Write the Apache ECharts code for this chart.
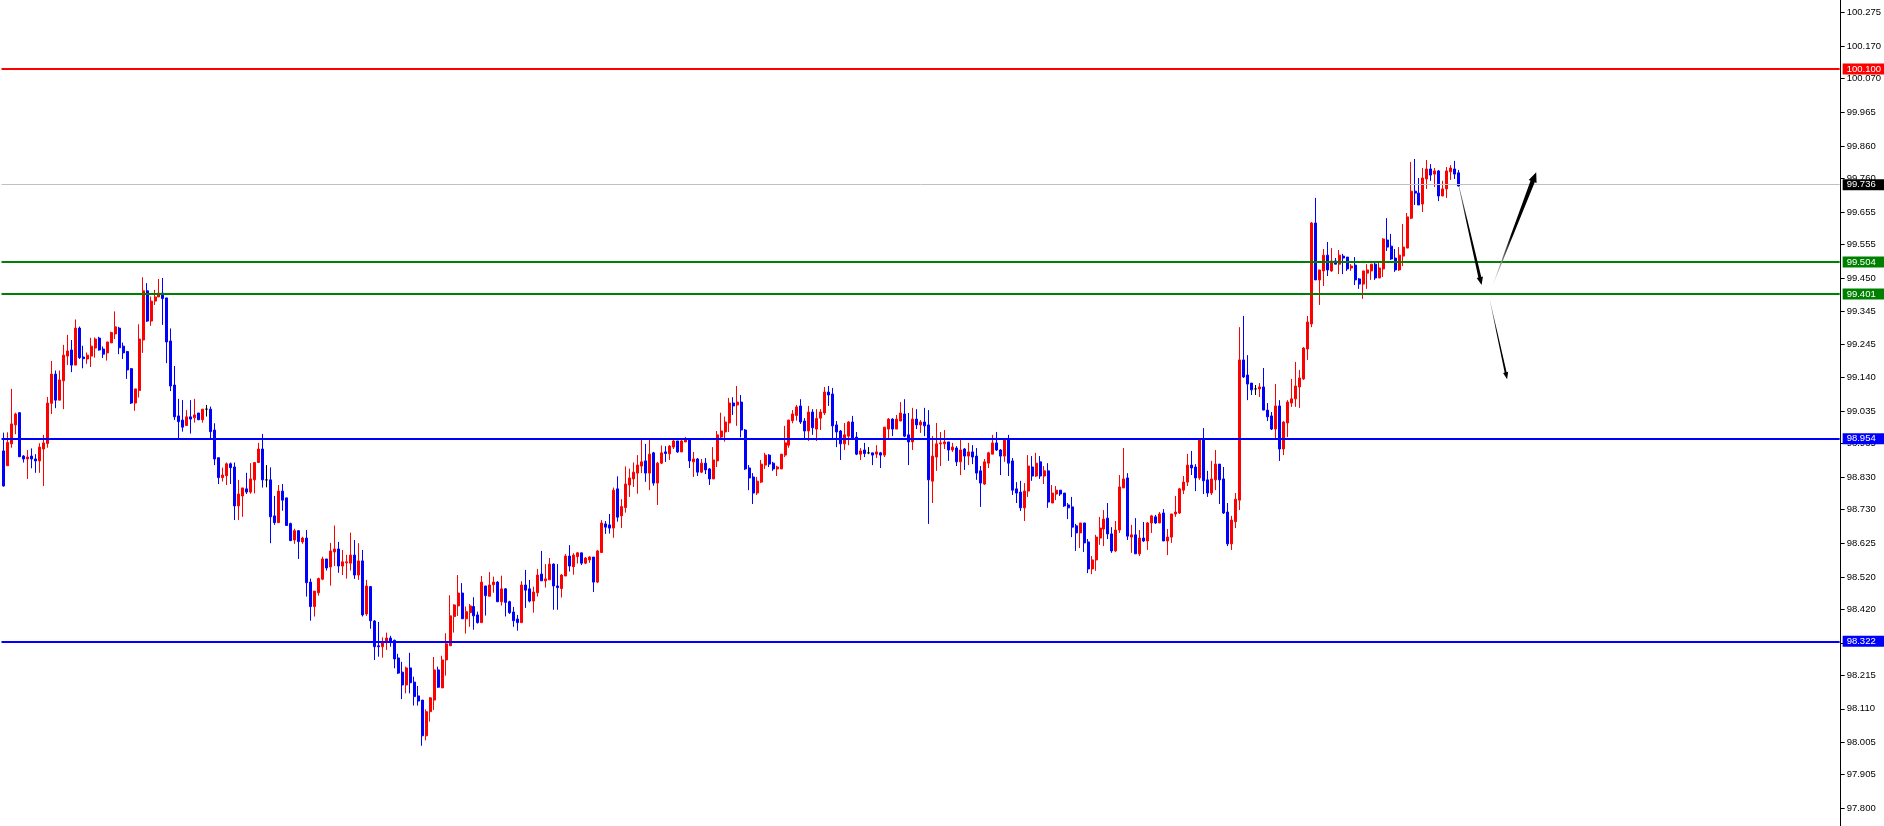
<!DOCTYPE html>
<html>
<head>
<meta charset="utf-8">
<script src="https://cdn.jsdelivr.net/npm/echarts@6/dist/echarts.min.js"></script>
<style>
html,body{margin:0;padding:0;background:#fff;}
#chart{width:1884px;height:826px;}
</style>
</head>
<body>
<div id="chart"></div>
<script>
// ---- candle values (bar by bar, oldest first) ----
const open = [
98.912,98.866,98.934,98.993,99.031,98.896,98.887,98.896,98.887,98.881,
98.918,98.935,99.060,99.151,99.070,99.130,99.207,99.226,99.179,99.294,
99.204,99.198,99.207,99.232,99.263,99.229,99.217,99.248,99.276,99.294,
99.238,99.221,99.168,99.061,99.100,99.257,99.410,99.316,99.378,99.391,
99.403,99.388,99.254,99.117,99.021,99.008,98.991,99.018,99.015,99.030,
99.009,99.042,99.042,98.977,98.891,98.829,98.835,98.872,98.862,98.741,
98.772,98.794,98.784,98.822,98.876,98.918,98.822,98.822,98.710,98.689,
98.787,98.766,98.686,98.635,98.664,98.629,98.641,98.504,98.428,98.471,
98.513,98.576,98.551,98.598,98.607,98.554,98.564,98.563,98.588,98.526,
98.570,98.405,98.490,98.383,98.306,98.303,98.318,98.330,98.323,98.268,
98.224,98.184,98.237,98.193,98.150,98.137,98.026,98.101,98.137,98.231,
98.175,98.262,98.306,98.397,98.430,98.470,98.390,98.409,98.428,98.402,
98.378,98.492,98.460,98.496,98.504,98.443,98.483,98.443,98.411,98.389,
98.378,98.495,98.483,98.445,98.471,98.529,98.508,98.511,98.560,98.492,
98.484,98.523,98.585,98.552,98.583,98.595,98.563,98.573,98.582,98.504,
98.596,98.685,98.682,98.672,98.794,98.710,98.736,98.806,98.825,98.843,
98.865,98.881,98.843,98.906,98.812,98.874,98.909,98.903,98.924,98.943,
98.909,98.940,98.946,98.878,98.887,98.846,98.874,98.856,98.825,98.881,
98.955,98.971,98.999,99.061,99.055,99.064,98.977,98.859,98.831,98.781,
98.815,98.868,98.899,98.874,98.856,98.856,98.899,98.930,99.006,99.022,
99.052,99.005,98.974,99.033,98.980,99.014,99.030,99.095,99.089,98.993,
98.974,98.934,98.958,99.002,98.955,98.902,98.915,98.906,98.906,98.902,
98.906,98.899,98.980,99.011,98.980,99.005,99.027,98.962,98.940,99.011,
98.993,99.002,98.993,98.818,98.893,98.934,98.934,98.940,98.915,98.921,
98.878,98.918,98.896,98.909,98.896,98.850,98.809,98.874,98.902,98.937,
98.915,98.896,98.946,98.881,98.794,98.784,98.735,98.787,98.862,98.834,
98.878,98.834,98.850,98.750,98.778,98.790,98.781,98.744,98.738,98.679,
98.657,98.688,98.629,98.545,98.573,98.641,98.669,98.703,98.654,98.601,
98.666,98.797,98.828,98.644,98.651,98.592,98.641,98.632,98.688,98.707,
98.688,98.719,98.632,98.644,98.716,98.719,98.790,98.815,98.868,98.862,
98.828,98.946,98.822,98.781,98.822,98.871,98.825,98.722,98.623,98.692,
98.759,99.195,99.148,99.123,99.105,99.105,99.111,99.039,99.021,98.980,
99.052,98.918,98.999,99.061,99.074,99.111,99.136,99.229,99.307,99.621,
99.444,99.472,99.521,99.472,99.503,99.493,99.518,99.515,99.481,99.490,
99.447,99.431,99.465,99.472,99.493,99.450,99.478,99.568,99.549,99.512,
99.475,99.518,99.543,99.636,99.720,99.714,99.680,99.758,99.789,99.773,
99.783,99.705,99.727,99.780,99.789,99.777];
const close = [
98.803,98.938,98.996,99.027,98.894,98.887,98.893,98.887,98.881,98.924,
98.937,99.061,99.151,99.070,99.133,99.210,99.223,99.179,99.294,99.202,
99.199,99.210,99.238,99.260,99.226,99.213,99.251,99.280,99.298,99.233,
99.217,99.164,99.061,99.105,99.260,99.410,99.316,99.378,99.391,99.403,
99.386,99.251,99.114,99.018,99.003,98.986,99.018,99.011,99.024,99.009,
99.042,99.042,98.972,98.887,98.829,98.837,98.872,98.860,98.741,98.778,
98.797,98.784,98.825,98.876,98.918,98.822,98.822,98.707,98.689,98.787,
98.759,98.680,98.633,98.664,98.630,98.641,98.502,98.428,98.476,98.515,
98.576,98.548,98.601,98.607,98.554,98.567,98.567,98.588,98.526,98.570,
98.402,98.492,98.384,98.303,98.303,98.318,98.330,98.321,98.265,98.221,
98.184,98.237,98.191,98.148,98.134,98.026,98.101,98.144,98.231,98.177,
98.262,98.312,98.399,98.433,98.470,98.390,98.412,98.430,98.399,98.378,
98.504,98.462,98.495,98.504,98.443,98.483,98.441,98.409,98.384,98.378,
98.495,98.479,98.445,98.473,98.526,98.508,98.514,98.560,98.492,98.487,
98.526,98.585,98.554,98.588,98.595,98.563,98.579,98.582,98.504,98.601,
98.688,98.675,98.672,98.790,98.706,98.739,98.809,98.828,98.846,98.868,
98.878,98.843,98.902,98.812,98.874,98.906,98.904,98.927,98.943,98.909,
98.943,98.949,98.881,98.887,98.846,98.874,98.853,98.825,98.884,98.962,
98.974,99.002,99.061,99.052,99.064,98.977,98.856,98.828,98.781,98.818,
98.871,98.899,98.871,98.856,98.862,98.902,98.937,99.008,99.027,99.049,
99.002,98.974,99.033,98.984,99.013,99.033,99.095,99.086,98.990,98.971,
98.934,98.962,99.002,98.952,98.902,98.912,98.904,98.906,98.899,98.909,
98.899,98.986,99.011,98.980,99.011,99.030,98.958,98.940,99.011,98.993,
99.002,98.990,98.822,98.896,98.934,98.937,98.940,98.915,98.924,98.878,
98.915,98.896,98.909,98.893,98.843,98.812,98.878,98.906,98.937,98.915,
98.896,98.946,98.874,98.790,98.781,98.735,98.787,98.865,98.834,98.874,
98.834,98.850,98.753,98.781,98.790,98.778,98.741,98.735,98.675,98.657,
98.688,98.626,98.545,98.573,98.644,98.672,98.700,98.654,98.601,98.666,
98.800,98.825,98.647,98.651,98.592,98.641,98.632,98.688,98.710,98.688,
98.716,98.632,98.644,98.716,98.722,98.794,98.815,98.868,98.859,98.828,
98.946,98.819,98.781,98.825,98.871,98.822,98.719,98.623,98.697,98.762,
99.195,99.142,99.120,99.102,99.105,99.111,99.039,99.018,98.980,99.052,
98.918,99.002,99.064,99.074,99.114,99.139,99.232,99.313,99.621,99.444,
99.475,99.521,99.475,99.503,99.493,99.521,99.512,99.478,99.487,99.444,
99.431,99.472,99.475,99.493,99.450,99.481,99.571,99.546,99.509,99.475,
99.521,99.546,99.640,99.720,99.714,99.677,99.761,99.789,99.770,99.783,
99.705,99.727,99.783,99.792,99.773,99.736];
const low = [
98.801,98.866,98.922,98.964,98.894,98.876,98.825,98.858,98.844,98.844,
98.803,98.922,99.027,99.045,99.070,99.042,99.179,99.157,99.179,99.198,
99.169,99.183,99.173,99.202,99.224,99.201,99.193,99.248,99.260,99.213,
99.198,99.136,99.058,99.037,99.078,99.217,99.313,99.301,99.366,99.391,
99.304,99.185,99.098,99.008,98.951,98.972,98.991,98.966,99.000,99.008,
99.000,99.019,98.950,98.868,98.809,98.817,98.806,98.809,98.697,98.697,
98.707,98.778,98.779,98.780,98.876,98.798,98.799,98.625,98.682,98.689,
98.726,98.680,98.632,98.623,98.576,98.623,98.459,98.384,98.397,98.462,
98.510,98.540,98.493,98.554,98.533,98.526,98.515,98.540,98.514,98.511,
98.397,98.399,98.359,98.262,98.272,98.269,98.293,98.303,98.236,98.218,
98.140,98.158,98.158,98.120,98.120,97.995,98.012,98.070,98.106,98.175,
98.175,98.213,98.306,98.347,98.399,98.390,98.344,98.365,98.356,98.375,
98.378,98.400,98.460,98.471,98.443,98.431,98.397,98.405,98.365,98.353,
98.378,98.424,98.441,98.409,98.459,98.508,98.487,98.511,98.418,98.418,
98.456,98.523,98.537,98.527,98.562,98.557,98.560,98.564,98.473,98.501,
98.596,98.654,98.655,98.642,98.692,98.672,98.720,98.769,98.800,98.779,
98.843,98.816,98.790,98.804,98.744,98.871,98.878,98.884,98.918,98.906,
98.909,98.940,98.859,98.831,98.834,98.843,98.840,98.806,98.825,98.862,
98.946,98.941,98.971,99.024,98.990,98.954,98.853,98.790,98.747,98.775,
98.812,98.856,98.862,98.850,98.834,98.856,98.893,98.922,98.998,99.006,
98.996,98.949,98.943,98.962,98.943,98.977,99.024,99.052,98.949,98.924,
98.884,98.915,98.930,98.949,98.899,98.884,98.893,98.902,98.868,98.890,
98.859,98.893,98.949,98.958,98.980,99.005,98.955,98.868,98.915,98.980,
98.968,98.958,98.685,98.750,98.850,98.865,98.918,98.881,98.909,98.865,
98.837,98.853,98.868,98.871,98.822,98.738,98.806,98.859,98.902,98.912,
98.837,98.878,98.834,98.775,98.750,98.725,98.694,98.769,98.819,98.831,
98.825,98.809,98.735,98.750,98.759,98.772,98.738,98.700,98.644,98.601,
98.610,98.598,98.532,98.529,98.539,98.620,98.616,98.638,98.595,98.598,
98.657,98.797,98.635,98.595,98.592,98.585,98.629,98.604,98.657,98.685,
98.688,98.632,98.588,98.626,98.707,98.716,98.778,98.803,98.837,98.787,
98.822,98.778,98.769,98.775,98.790,98.747,98.716,98.616,98.604,98.672,
98.728,99.139,99.070,99.086,99.086,99.080,99.039,99.005,98.977,98.946,
98.881,98.899,98.955,99.049,99.049,99.046,99.133,99.195,99.297,99.444,
99.366,99.425,99.456,99.469,99.493,99.462,99.462,99.472,99.472,99.428,
99.416,99.385,99.416,99.444,99.444,99.450,99.453,99.534,99.506,99.469,
99.472,99.487,99.543,99.633,99.677,99.677,99.655,99.727,99.752,99.733,
99.689,99.705,99.699,99.755,99.758,99.734];
const high = [
98.969,98.970,99.105,99.031,99.033,98.899,98.915,98.920,98.902,98.936,
98.962,99.080,99.192,99.162,99.162,99.242,99.273,99.257,99.321,99.299,
99.239,99.218,99.264,99.265,99.267,99.237,99.251,99.283,99.346,99.298,
99.249,99.223,99.170,99.105,99.306,99.452,99.434,99.392,99.413,99.447,
99.450,99.388,99.293,99.176,99.074,99.070,99.039,99.070,99.074,99.030,
99.042,99.055,99.050,98.998,98.891,98.860,98.876,98.876,98.876,98.822,
98.797,98.844,98.874,98.876,98.937,98.965,98.868,98.861,98.772,98.806,
98.809,98.766,98.689,98.670,98.666,98.645,98.666,98.515,98.476,98.518,
98.583,98.576,98.626,98.680,98.629,98.604,98.589,98.658,98.635,98.625,
98.604,98.511,98.492,98.386,98.380,98.332,98.347,98.337,98.325,98.281,
98.256,98.241,98.284,98.210,98.181,98.137,98.108,98.146,98.271,98.241,
98.275,98.345,98.463,98.435,98.526,98.501,98.428,98.436,98.457,98.412,
98.523,98.492,98.535,98.521,98.507,98.524,98.485,98.446,98.427,98.402,
98.507,98.542,98.511,98.490,98.545,98.601,98.560,98.579,98.562,98.560,
98.529,98.591,98.619,98.594,98.598,98.595,98.582,98.585,98.582,98.604,
98.697,98.694,98.716,98.798,98.833,98.762,98.864,98.857,98.876,98.899,
98.949,98.934,98.949,98.909,98.878,98.929,98.927,98.930,98.946,98.943,
98.946,98.955,98.946,98.909,98.890,98.887,98.890,98.859,98.924,98.974,
99.031,99.019,99.077,99.079,99.114,99.086,98.980,98.868,98.843,98.831,
98.884,98.906,98.902,98.878,98.866,98.902,98.990,99.008,99.039,99.055,
99.073,99.014,99.052,99.042,99.042,99.042,99.111,99.114,99.108,99.005,
98.977,98.999,99.005,99.021,98.971,98.921,98.937,98.924,98.906,98.930,
98.909,98.986,99.014,99.014,99.024,99.064,99.073,99.030,99.046,99.042,
99.008,99.046,99.039,98.958,98.999,98.971,98.977,98.940,98.937,98.927,
98.949,98.921,98.937,98.930,98.921,98.865,98.887,98.909,98.962,98.971,
98.918,98.948,98.962,98.890,98.815,98.819,98.812,98.899,98.896,98.906,
98.896,98.865,98.874,98.806,98.803,98.790,98.781,98.750,98.769,98.685,
98.688,98.688,98.638,98.585,98.651,98.707,98.728,98.750,98.675,98.694,
98.837,98.921,98.843,98.682,98.703,98.666,98.691,98.691,98.713,98.713,
98.722,98.731,98.669,98.716,98.772,98.797,98.834,98.903,98.912,98.871,
98.946,98.983,98.850,98.881,98.915,98.871,98.862,98.750,98.710,98.781,
99.297,99.332,99.210,99.123,99.117,99.123,99.170,99.061,99.033,99.120,
99.070,99.005,99.070,99.136,99.189,99.164,99.235,99.332,99.624,99.699,
99.475,99.540,99.562,99.543,99.512,99.537,99.525,99.515,99.493,99.515,
99.450,99.472,99.493,99.493,99.497,99.500,99.574,99.636,99.587,99.540,
99.546,99.618,99.652,99.811,99.820,99.761,99.792,99.817,99.804,99.792,
99.786,99.752,99.795,99.801,99.814,99.786];

// ---- horizontal price levels ----
const levelPrices = [100.100, 99.736, 99.504, 99.401, 98.954, 98.322];
const levelNames  = ['resistance', 'bid', 'zone top', 'zone bottom', 'support 1', 'support 2'];

// ---- right price-axis tick labels ----
const yTickLabels = ['100.275','100.170','100.070','99.965','99.860','99.760','99.655','99.555',
  '99.450','99.345','99.245','99.140','99.035','98.935','98.830','98.730','98.625','98.520',
  '98.420','98.315','98.215','98.110','98.005','97.905','97.800'];

// ---- annotation arrows: [fromBar, fromPrice, toBar, toPrice] ----
const arrowFromBar   = [365.0, 373.35, 372.75];
const arrowFromPrice = [99.736, 99.423, 99.382];
const arrowToBar     = [370.7, 384.4, 377.1];
const arrowToPrice   = [99.428, 99.779, 99.135];

// ---- categories (one slot per bar, plus empty slots to the right) ----
const padSlots = 95;
const categories = [];
for (let i = 0; i < open.length + padSlots; i++) categories.push(String(i + 1));

// ---- styles (kept apart from data) ----
const levelStyle = [
  {line: '#ff0000', width: 2, box: '#ff0000'},
  {line: '#c0c0c0', width: 1, box: '#000000'},
  {line: '#008000', width: 2, box: '#008000'},
  {line: '#008000', width: 2, box: '#008000'},
  {line: '#0000ff', width: 2, box: '#0000ff'},
  {line: '#0000ff', width: 2, box: '#0000ff'}
];
const arrowStyle = [
  {w0: 0.6, w1: 3.0, head: 8,  hw: 3.2, c0: '#9a9a9a', mid: 0.35},
  {w0: 0.2, w1: 4.5, head: 10, hw: 4.2, c0: '#ffffff', mid: 0.45},
  {w0: 0.3, w1: 2.0, head: 7,  hw: 2.6, c0: '#d0d0d0', mid: 0.4}
];
const FONT = 'Liberation Sans';

const candleData = open.map((o, i) => [o, close[i], low[i], high[i]]);
const arrowData = arrowFromBar.map((b, i) => [b, arrowFromPrice[i], arrowToBar[i], arrowToPrice[i]]);

const chart = echarts.init(document.getElementById('chart'), null, {renderer: 'canvas'});
const slotCount = categories.length;
chart.setOption({
  animation: false,
  backgroundColor: '#ffffff',
  grid: {left: 1.5, top: 0, bottom: 0, width: 4 * slotCount, containLabel: false},
  xAxis: [
    {type: 'category', data: categories, boundaryGap: true, show: false},
    {type: 'value', min: -0.5, max: slotCount - 0.5, show: false}
  ],
  yAxis: {
    type: 'value', position: 'right', offset: 1,
    min: 97.7454, max: 100.3146, scale: true,
    splitLine: {show: false},
    axisLine: {show: true, onZero: false, lineStyle: {color: '#000', width: 1}},
    axisTick: {show: true, length: 4, inside: false, lineStyle: {color: '#000'},
      customValues: yTickLabels.map(Number)},
    axisLabel: {show: true, margin: 6, color: '#000', fontFamily: FONT, fontSize: 9.5,
      customValues: yTickLabels.map(Number),
      formatter: v => Number(v).toFixed(3)}
  },
  series: [
    {
      type: 'candlestick',
      xAxisIndex: 0, yAxisIndex: 0,
      data: candleData,
      barWidth: 2.5,
      large: false,
      itemStyle: {
        color: '#ff0000', color0: '#0000ff',
        borderColor: '#ff0000', borderColor0: '#0000ff', borderColorDoji: '#000000',
        borderWidth: 1
      },
      emphasis: {disabled: true},
      markLine: {
        silent: true, symbol: ['none', 'none'], animation: false,
        data: levelPrices.map((p, i) => ({
          name: levelNames[i],
          yAxis: p,
          lineStyle: {color: levelStyle[i].line, width: levelStyle[i].width, type: 'solid'},
          label: {
            show: true, position: 'end', distance: 3,
            formatter: () => p.toFixed(3),
            color: '#ffffff', fontFamily: FONT, fontSize: 9.5, lineHeight: 10,
            backgroundColor: levelStyle[i].box,
            padding: [1, 12, 0, 4]
          }
        }))
      }
    },
    {
      type: 'custom',
      xAxisIndex: 1, yAxisIndex: 0,
      data: arrowData,
      encode: {x: [0, 2], y: [1, 3]},
      silent: true,
      z: 5,
      renderItem: function (params, api) {
        const st = arrowStyle[params.dataIndex];
        const s = api.coord([api.value(0), api.value(1)]);
        const e = api.coord([api.value(2), api.value(3)]);
        const dx = e[0] - s[0], dy = e[1] - s[1];
        const len = Math.hypot(dx, dy);
        const ux = dx / len, uy = dy / len, nx = -uy, ny = ux;
        const b = [e[0] - ux * st.head, e[1] - uy * st.head];
        const pts = [
          [s[0] + nx * st.w0 / 2, s[1] + ny * st.w0 / 2],
          [b[0] + nx * st.w1 / 2, b[1] + ny * st.w1 / 2],
          [b[0] + nx * st.hw, b[1] + ny * st.hw],
          [e[0], e[1]],
          [b[0] - nx * st.hw, b[1] - ny * st.hw],
          [b[0] - nx * st.w1 / 2, b[1] - ny * st.w1 / 2],
          [s[0] - nx * st.w0 / 2, s[1] - ny * st.w0 / 2]
        ];
        return {
          type: 'polygon',
          shape: {points: pts},
          style: {
            fill: new echarts.graphic.LinearGradient(s[0], s[1], e[0], e[1], [
              {offset: 0, color: st.c0},
              {offset: st.mid, color: '#000000'},
              {offset: 1, color: '#000000'}
            ], true)
          }
        };
      }
    }
  ]
});
</script>
</body>
</html>
